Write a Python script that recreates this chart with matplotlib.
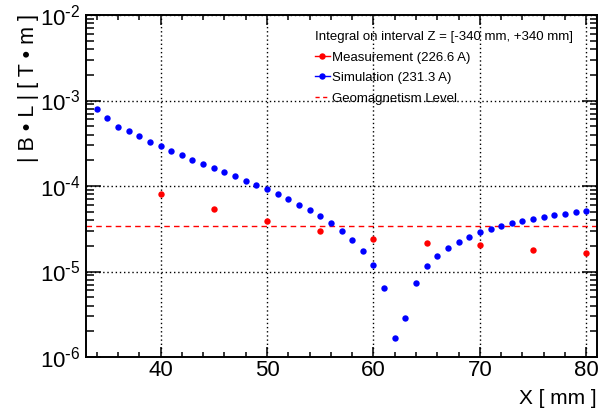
import matplotlib
matplotlib.use("Agg")
import numpy as np
import matplotlib.pyplot as plt
from matplotlib.lines import Line2D
from matplotlib.ticker import LogLocator, MultipleLocator, FixedLocator, FuncFormatter

plt.rcParams['font.family'] = ['Liberation Sans', 'DejaVu Sans']
plt.rcParams['mathtext.default'] = 'regular'

# Simulation (231.3 A)
sim_x = list(range(34, 81))
sim_y = [8.0e-4, 6.3e-4, 4.94e-4, 4.36e-4, 3.81e-4, 3.30e-4, 2.91e-4, 2.59e-4,
         2.31e-4, 2.03e-4, 1.82e-4, 1.64e-4, 1.46e-4, 1.31e-4, 1.15e-4, 1.03e-4,
         9.15e-5, 8.06e-5, 7.05e-5, 6.04e-5, 5.24e-5, 4.46e-5, 3.66e-5, 2.98e-5,
         2.36e-5, 1.75e-5, 1.18e-5, 6.47e-6, 1.68e-6, 2.88e-6, 7.28e-6, 1.15e-5,
         1.53e-5, 1.88e-5, 2.23e-5, 2.55e-5, 2.87e-5, 3.14e-5, 3.40e-5, 3.66e-5,
         3.90e-5, 4.15e-5, 4.34e-5, 4.58e-5, 4.74e-5, 4.97e-5, 5.14e-5]

# Measurement (226.6 A)
meas_x = [40, 45, 50, 55, 60, 65, 70, 75, 80]
meas_y = [8.0e-5, 5.33e-5, 3.86e-5, 2.98e-5, 2.42e-5, 2.15e-5, 2.02e-5, 1.80e-5, 1.66e-5]

geo_level = 3.38e-5
x_ticks = [40, 50, 60, 70, 80]

W, H = 604, 411
fig = plt.figure(figsize=(W / 100, H / 100), dpi=100)
ax = fig.add_axes([86 / W, 1 - 357 / H, 511 / W, 342 / H])

ax.set_yscale('log')
ax.set_xlim(33, 81)
ax.set_ylim(1e-6, 1e-2)

ax.axhline(geo_level, color='red', linestyle=(0, (4, 3)), linewidth=1.0, zorder=2)
ax.plot(meas_x, meas_y, 'o', color='red', markersize=4.6, markeredgewidth=0, zorder=3)
ax.plot(sim_x, sim_y, 'o', color='blue', markersize=4.6, markeredgewidth=0, zorder=3)

ax.xaxis.set_major_locator(FixedLocator(x_ticks))
ax.xaxis.set_minor_locator(MultipleLocator(2))
ax.yaxis.set_major_locator(LogLocator(base=10, numticks=10))
ax.yaxis.set_minor_locator(LogLocator(base=10, subs=range(2, 10), numticks=20))


def log_fmt(v, pos):
    e = int(round(np.log10(v)))
    sign = '\\text{-}' if e < 0 else ''
    return f'$10^{{{sign}{abs(e)}}}$'


ax.yaxis.set_major_formatter(FuncFormatter(log_fmt))

ax.grid(True, which='major', color='black', linestyle=(0, (1, 2)), linewidth=1.0)
for s in ax.spines.values():
    s.set_linewidth(1.4)

ax.tick_params(axis='both', which='both', direction='in', top=True, right=True,
               labelsize=16, width=1.1)
ax.tick_params(axis='x', which='major', length=7.5, pad=2)
ax.tick_params(axis='x', which='minor', length=3.6)
ax.tick_params(axis='y', which='major', length=10.8, pad=4)
ax.tick_params(axis='y', which='minor', length=5.4)

fig.text(29 / W, 1 - 14 / H, '| B \u2022 L | [ T \u2022 m ]', rotation=90,
         ha='center', va='top', fontsize=15.5)
fig.text(597 / W, 1 - 398 / H, 'X [ mm ]', ha='right', va='center', fontsize=15)

handles = [
    Line2D([], [], color='red', marker='o', markersize=4.6, markeredgewidth=0, linewidth=1.0),
    Line2D([], [], color='blue', marker='o', markersize=4.6, markeredgewidth=0, linewidth=1.0),
    Line2D([], [], color='red', linestyle=(0, (3, 2.5)), linewidth=1.0),
]
labels = ['Measurement (226.6 A)', 'Simulation (231.3 A)', 'Geomagnetism Level']
leg = ax.legend(handles, labels, title='Integral on interval Z = [-340 mm, +340 mm]',
                loc='upper left', bbox_to_anchor=(315 / W, 1 - 31 / H),
                bbox_transform=fig.transFigure, frameon=False, fontsize=9.5,
                title_fontsize=9.5, handlelength=1.1, handletextpad=0.2,
                borderpad=0, borderaxespad=0, labelspacing=0.63)
leg._legend_box.align = 'left'

fig.savefig('out.png', dpi=100)
